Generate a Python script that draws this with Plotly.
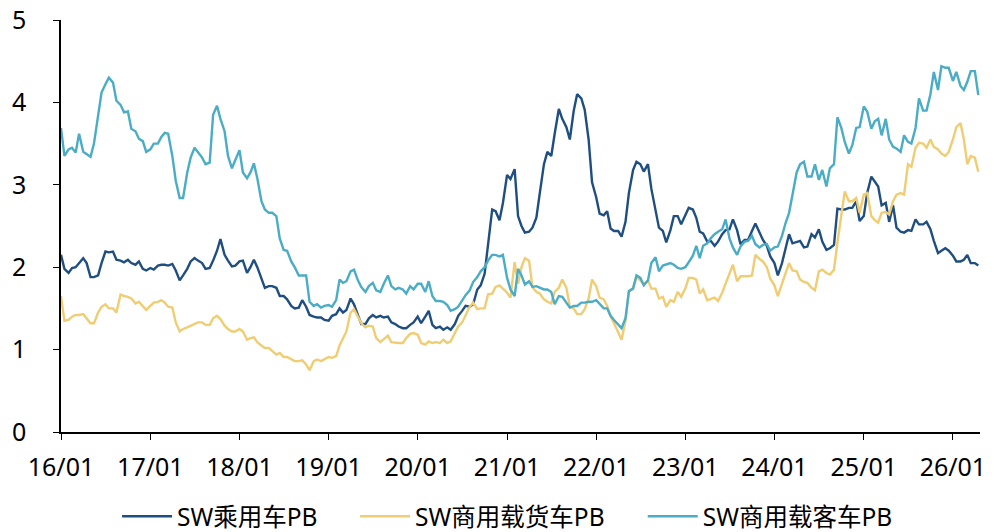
import pandas as pd
import plotly.graph_objects as go

# semi-monthly observations, 2016-01-01 .. 2026-04-15
dates = pd.date_range("2016-01-01", periods=248, freq="SMS")

pv_pb = [
    2.15, 1.98, 1.93, 1.99, 2.00, 2.05, 2.11, 2.05, 1.88, 1.88,
    1.90, 2.05, 2.19, 2.18, 2.19, 2.09, 2.08, 2.06, 2.09, 2.05,
    2.03, 2.07, 1.98, 1.96, 1.99, 1.97, 2.02, 2.03, 2.03, 2.02,
    2.04, 1.96, 1.84, 1.90, 1.98, 2.07, 2.11, 2.08, 2.05, 1.98,
    1.99, 2.08, 2.20, 2.34, 2.15, 2.08, 2.01, 2.02, 2.07, 2.08,
    1.93, 2.00, 2.09, 2.00, 1.86, 1.75, 1.77, 1.77, 1.75, 1.65,
    1.65, 1.61, 1.53, 1.50, 1.51, 1.60, 1.52, 1.42, 1.40, 1.39,
    1.39, 1.36, 1.35, 1.41, 1.43, 1.50, 1.45, 1.48, 1.62, 1.55,
    1.42, 1.31, 1.31, 1.38, 1.42, 1.39, 1.41, 1.39, 1.40, 1.33,
    1.31, 1.28, 1.26, 1.26, 1.30, 1.33, 1.40, 1.32, 1.40, 1.47,
    1.30, 1.26, 1.28, 1.24, 1.27, 1.24, 1.31, 1.41, 1.47, 1.53,
    1.52, 1.55, 1.73, 1.78, 1.92, 2.30, 2.70, 2.68, 2.57, 2.78,
    3.12, 3.07, 3.19, 2.62, 2.50, 2.42, 2.43, 2.48, 2.60, 2.90,
    3.25, 3.40, 3.35, 3.62, 3.92, 3.80, 3.70, 3.55, 3.90, 4.10,
    4.05, 3.91, 3.55, 3.03, 2.85, 2.65, 2.63, 2.68, 2.47, 2.44,
    2.44, 2.37, 2.55, 2.90, 3.18, 3.28, 3.25, 3.16, 3.25, 2.95,
    2.68, 2.48, 2.44, 2.30, 2.45, 2.62, 2.62, 2.52, 2.63, 2.72,
    2.70, 2.60, 2.43, 2.41, 2.31, 2.32, 2.26, 2.31, 2.40, 2.45,
    2.46, 2.58, 2.45, 2.28, 2.33, 2.33, 2.44, 2.53, 2.42, 2.33,
    2.26, 2.13, 2.05, 1.90, 2.05, 2.21, 2.40, 2.29, 2.31, 2.32,
    2.24, 2.25, 2.40, 2.36, 2.46, 2.31, 2.21, 2.23, 2.27, 2.71,
    2.70, 2.70, 2.72, 2.72, 2.80, 2.56, 2.62, 2.90, 3.10, 3.04,
    2.98, 2.75, 2.78, 2.55, 2.75, 2.48, 2.43, 2.42, 2.45, 2.44,
    2.58, 2.52, 2.52, 2.55, 2.46, 2.32, 2.17, 2.20, 2.23, 2.20,
    2.14, 2.07, 2.07, 2.09, 2.15, 2.05, 2.05, 2.02,
]

truck_pb = [
    1.65, 1.35, 1.36, 1.40, 1.42, 1.42, 1.43, 1.38, 1.32, 1.32,
    1.45, 1.52, 1.55, 1.50, 1.50, 1.45, 1.67, 1.65, 1.64, 1.62,
    1.56, 1.58, 1.53, 1.48, 1.53, 1.57, 1.58, 1.60, 1.57, 1.52,
    1.51, 1.33, 1.22, 1.25, 1.27, 1.29, 1.31, 1.33, 1.33, 1.30,
    1.30, 1.38, 1.41, 1.37, 1.29, 1.25, 1.22, 1.22, 1.25, 1.22,
    1.12, 1.14, 1.15, 1.09, 1.05, 1.02, 1.02, 0.98, 0.94, 0.96,
    0.91, 0.91, 0.88, 0.86, 0.86, 0.87, 0.82, 0.75, 0.86, 0.88,
    0.86, 0.88, 0.91, 0.90, 0.92, 1.05, 1.14, 1.22, 1.45, 1.49,
    1.40, 1.32, 1.27, 1.29, 1.28, 1.14, 1.09, 1.13, 1.17, 1.09,
    1.08, 1.08, 1.08, 1.14, 1.19, 1.20, 1.18, 1.08, 1.06, 1.10,
    1.08, 1.09, 1.08, 1.12, 1.08, 1.10, 1.20, 1.28, 1.33, 1.42,
    1.52, 1.57, 1.49, 1.50, 1.50, 1.67, 1.68, 1.76, 1.78, 1.74,
    1.69, 1.63, 2.06, 1.80, 2.00, 2.11, 2.08, 1.76, 1.70, 1.68,
    1.61, 1.58, 1.56, 1.70, 1.75, 1.85, 1.75, 1.52, 1.50, 1.43,
    1.43, 1.49, 1.62, 1.85, 1.77, 1.63, 1.61, 1.53, 1.40, 1.32,
    1.20, 1.12, 1.35, 1.70, 1.75, 1.88, 1.84, 1.79, 1.84, 1.74,
    1.74, 1.62, 1.64, 1.52, 1.60, 1.58, 1.70, 1.64, 1.74, 1.87,
    1.87, 1.85, 1.68, 1.73, 1.60, 1.61, 1.63, 1.59, 1.69, 1.80,
    1.93, 2.03, 1.83, 1.89, 1.89, 1.89, 1.90, 2.15, 2.10, 2.07,
    2.00, 1.86, 1.78, 1.65, 1.80, 1.93, 2.05, 1.96, 1.95, 1.85,
    1.82, 1.81, 1.75, 1.72, 1.95, 1.97, 1.93, 1.91, 1.97, 2.30,
    2.62, 2.92, 2.80, 2.80, 2.84, 2.66, 2.88, 2.90, 2.62, 2.57,
    2.54, 2.66, 2.67, 2.64, 2.80, 2.88, 2.90, 2.88, 3.25, 3.22,
    3.45, 3.51, 3.50, 3.45, 3.55, 3.46, 3.43, 3.38, 3.35, 3.40,
    3.55, 3.70, 3.75, 3.55, 3.25, 3.35, 3.33, 3.16,
]

bus_pb = [
    3.69, 3.35, 3.43, 3.45, 3.39, 3.62, 3.40, 3.37, 3.34, 3.50,
    3.85, 4.12, 4.22, 4.30, 4.24, 4.02, 3.97, 3.88, 3.89, 3.68,
    3.65, 3.56, 3.53, 3.40, 3.43, 3.50, 3.50, 3.58, 3.63, 3.62,
    3.35, 3.05, 2.84, 2.84, 3.15, 3.33, 3.45, 3.40, 3.33, 3.25,
    3.27, 3.85, 3.96, 3.80, 3.65, 3.35, 3.20, 3.30, 3.42, 3.15,
    3.08, 3.15, 3.26, 3.08, 2.80, 2.70, 2.66, 2.66, 2.62, 2.35,
    2.21, 2.20, 2.07, 2.00, 1.90, 1.90, 1.90, 1.58, 1.53, 1.55,
    1.51, 1.53, 1.54, 1.52, 1.60, 1.85, 1.81, 1.83, 1.95, 1.97,
    1.84, 1.76, 1.70, 1.77, 1.81, 1.72, 1.70, 1.80, 1.90, 1.77,
    1.73, 1.75, 1.73, 1.68, 1.77, 1.73, 1.80, 1.80, 1.70, 1.83,
    1.65, 1.59, 1.59, 1.58, 1.54, 1.47, 1.49, 1.52, 1.60, 1.66,
    1.72, 1.82, 1.88, 1.95, 2.00, 2.08, 2.15, 2.15, 2.13, 2.15,
    1.87, 1.73, 1.65, 1.98, 1.90, 1.79, 1.83, 1.76, 1.77, 1.75,
    1.73, 1.73, 1.70, 1.55, 1.65, 1.64, 1.57, 1.51, 1.53, 1.53,
    1.57, 1.57, 1.58, 1.58, 1.60, 1.55, 1.50, 1.50, 1.41, 1.36,
    1.30, 1.26, 1.38, 1.71, 1.74, 1.90, 1.87, 1.78, 1.84, 2.05,
    2.12, 1.95, 2.02, 2.03, 2.05, 2.03, 1.99, 1.98, 2.00, 2.06,
    2.14, 2.26, 2.11, 2.26, 2.29, 2.35, 2.40, 2.43, 2.46, 2.58,
    2.35, 2.24, 2.15, 2.25, 2.31, 2.32, 2.38, 2.28, 2.24, 2.27,
    2.28, 2.20, 2.24, 2.25, 2.38, 2.53, 2.66, 2.88, 3.15, 3.25,
    3.28, 3.10, 3.10, 3.25, 3.06, 3.18, 2.98, 3.20, 3.25, 3.82,
    3.69, 3.52, 3.38, 3.48, 3.69, 3.70, 3.95, 3.89, 3.68, 3.77,
    3.80, 3.60, 3.80, 3.55, 3.46, 3.44, 3.40, 3.60, 3.52, 3.50,
    3.69, 4.05, 3.90, 3.90, 4.10, 4.37, 4.15, 4.44, 4.42, 4.42,
    4.26, 4.37, 4.20, 4.15, 4.25, 4.38, 4.38, 4.09,
]

series = [
    ("SW乘用车PB", pv_pb, "#1f4e80", "legend", 0.061),
    ("SW商用载货车PB", truck_pb, "#f0cd73", "legend2", 0.320),
    ("SW商用载客车PB", bus_pb, "#4bacc6", "legend3", 0.633),
]

fig = go.Figure()
for name, vals, color, leg, _ in series:
    fig.add_trace(go.Scatter(x=dates, y=vals, name=name, mode="lines", legend=leg,
                             line=dict(color=color, width=2.4)))

# page body has an 8px default margin, so the figure is drawn 8px smaller
font = "Noto Sans, Open Sans, Noto Sans CJK SC, sans-serif"
fig.update_layout(
    width=986, height=524,
    margin=dict(l=53, r=14, t=12, b=100),
    plot_bgcolor="white", paper_bgcolor="white",
    font=dict(family=font, size=25, color="#000000"),
    showlegend=True,
)
for name, vals, color, leg, lx in series:
    fig.update_layout({leg: dict(orientation="h", x=lx, xanchor="left",
                                 yref="container", y=0.03, yanchor="middle",
                                 font=dict(size=24.5), itemwidth=50)})
fig.update_xaxes(
    range=["2016-01-01", "2026-04-22"],
    tickformat="%y/%m", dtick="M12", tick0="2016-01-01",
    showgrid=False, showline=True, linecolor="black", linewidth=1.5,
    ticks="outside", ticklen=6, tickcolor="black", zeroline=False,
    automargin=False, ticklabelstandoff=6, ticklabeloverflow="allow",
)
fig.update_yaxes(
    range=[0, 5], dtick=1,
    showgrid=False, showline=True, linecolor="black", linewidth=1.5,
    ticks="outside", ticklen=6, tickcolor="black", zeroline=False,
    automargin=False, ticklabelstandoff=22, ticklabeloverflow="allow",
)

fig.write_html("out.html")
